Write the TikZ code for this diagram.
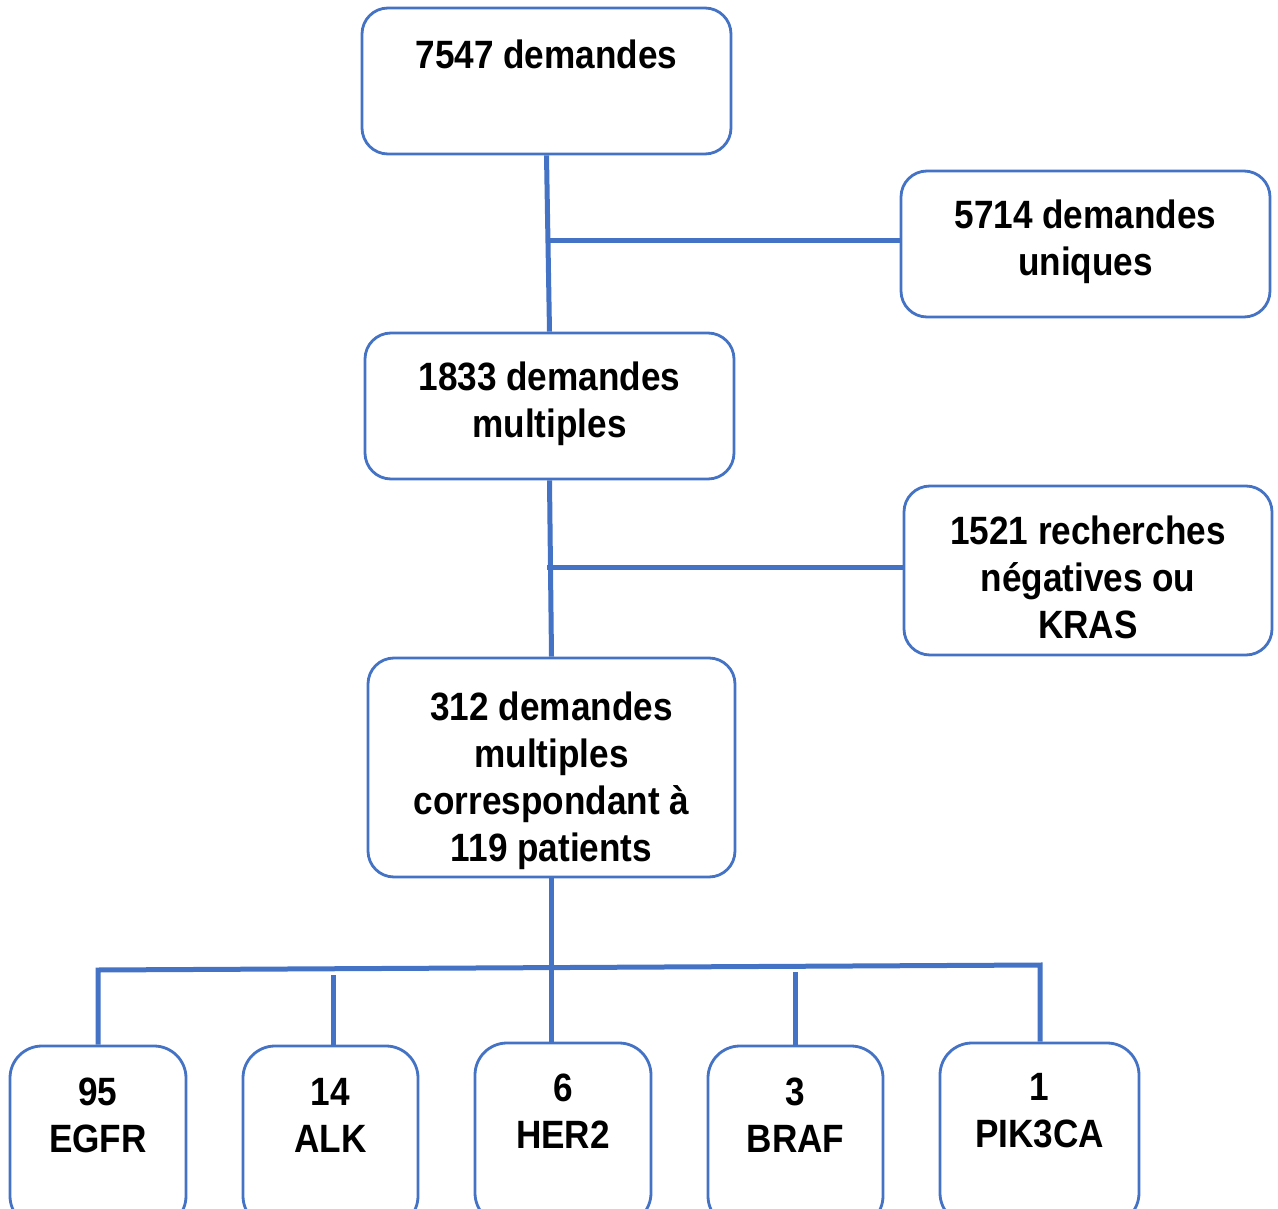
\documentclass[tikz,border=0pt]{standalone}
\usepackage{fontspec}
\setmainfont{Liberation Sans}[FakeStretch=0.89]
\usetikzlibrary{calc}
\definecolor{bl}{HTML}{4472C4}
\begin{document}
\begin{tikzpicture}[x=1pt,y=-1pt,
  box/.style={draw=bl, line width=2.8pt, rounded corners=26pt, fill=white, inner sep=0pt},
  sbox/.style={box, rounded corners=32pt},
  txt/.style={font=\fontsize{39.5}{47}\selectfont\bfseries, align=center, text=black, inner sep=0pt},
  conn/.style={draw=bl, line width=5pt}]
\useasboundingbox (0,0) rectangle (1278,1209);
\clip (0,0) rectangle (1278,1209);
% main boxes
\node[box, minimum width=369pt, minimum height=146pt,
  label={[txt, yshift=27pt]center:7547 demandes}] (b1) at (546.5,81) {};
\node[box, minimum width=369pt, minimum height=146pt,
  label={[txt, yshift=2pt]center:5714 demandes\\uniques}] (b2) at (1085.5,244) {};
\node[box, minimum width=369pt, minimum height=146pt,
  label={[txt, yshift=2pt]center:1833 demandes\\multiples}] (b3) at (549.5,406) {};
\node[box, minimum width=368pt, minimum height=169pt,
  label={[txt, yshift=-7pt]center:1521 recherches\\négatives ou\\KRAS}] (b4) at (1088,570.5) {};
\node[box, minimum width=367pt, minimum height=219pt,
  label={[txt, yshift=-13pt]center:312 demandes\\multiples\\correspondant à\\119 patients}] (b5) at (551.5,767.5) {};
% bottom boxes
\node[sbox, minimum width=176pt, minimum height=182pt,
  label={[txt, yshift=22pt]center:95\\EGFR}] (e1) at (98,1137) {};
\node[sbox, minimum width=175pt, minimum height=182pt,
  label={[txt, yshift=22pt]center:14\\ALK}] (e2) at (330.5,1137) {};
\node[sbox, minimum width=176pt, minimum height=182pt,
  label={[txt, yshift=23pt]center:6\\HER2}] (e3) at (563,1134) {};
\node[sbox, minimum width=175pt, minimum height=182pt,
  label={[txt, yshift=22pt]center:3\\BRAF}] (e4) at (795.5,1137) {};
\node[sbox, minimum width=199pt, minimum height=182pt,
  label={[txt, yshift=23pt]center:1\\PIK3CA}] (e5) at (1039.5,1134) {};
% connectors
\draw[conn] (b1.south) -- (b3.north);
\coordinate (j1) at (548,241);
\draw[conn] (j1) -- (j1 -| b2.west);
\draw[conn] (b3.south) -- (b5.north);
\coordinate (j2) at (547,567);
\draw[conn] (j2) -- (j2 -| b4.west);
\draw[conn] (b5.south) -- (b5.south |- e3.north);
\coordinate (bl) at (98,970);
\coordinate (br) at (1040,965);
\draw[conn] (e1.north) -- (e1.north |- bl) -- (br) -- (br |- e5.north);
\coordinate (a1) at (333,975);
\draw[conn] (a1) -- (a1 |- e2.north);
\coordinate (a2) at (795,972);
\draw[conn] (a2) -- (a2 |- e4.north);
\end{tikzpicture}
\end{document}
